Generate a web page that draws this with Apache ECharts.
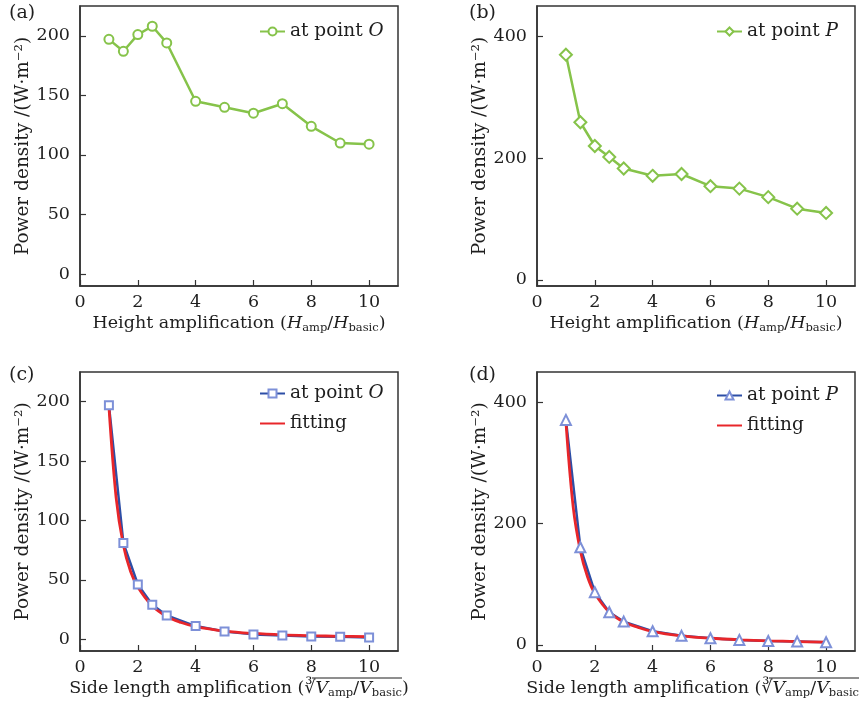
<!DOCTYPE html>
<html lang="en">
<head>
    <meta charset="UTF-8">
    <title>Power density vs amplification</title>
    <style>
        html, body { margin: 0; padding: 0; background: #fff; }
        #main { width: 859px; height: 718px; }
    </style>
    <script src="https://cdn.jsdelivr.net/npm/echarts@6/dist/echarts.min.js"></script>
</head>
<body>
<div id="main"></div>
<script>
    // measured points (x = amplification factor)
    const xVals = [1, 1.5, 2, 2.5, 3, 4, 5, 6, 7, 8, 9, 10]
    const pointOHeight = [197, 187, 201, 208, 194, 145, 140, 135, 143, 124, 110, 109]
    const pointPHeight = [370, 259, 220, 202, 183, 171, 174, 154, 150, 136, 117, 110]
    const pointOSide = [197, 81, 46, 29, 20, 11, 6.5, 4, 3, 2.2, 2, 1.4]
    const pointPSide = [371, 161, 87, 54, 38.5, 22.6, 15, 11, 8.3, 6.6, 5.5, 4.4]
    // fitted curves
    const fitX = [1, 1.25, 1.5, 1.75, 2, 2.5, 3, 3.5, 4, 5, 6, 7, 8, 9, 10]
    const fitOSide = [196, 119, 79, 57, 44, 28, 19, 14, 10.5, 6.8, 4.8, 3.6, 2.9, 2.4, 2.0]
    const fitPSide = [368, 228, 155, 112, 85, 54, 38, 29, 22, 15, 11, 8.5, 6.8, 5.6, 4.6]
    const xTicks = [0, 2, 4, 6, 8, 10]
    const yTicksO = [0, 50, 100, 150, 200]
    const yTicksP = [0, 200, 400]

    const FONT = 'DejaVu Serif'
    const INK = '#1e1e1e'
    const GREEN = '#86c34a'
    const BLUE = '#2d4ea6'
    const BLUE_MK = '#7d90d8'
    const RED = '#e8262a'

    const pairs = (xs, ys) => xs.map((x, i) => [x, ys[i]])

    const rich = {
        n: {fontFamily: FONT, fontSize: 17.5, color: INK},
        i: {fontFamily: FONT, fontSize: 17.5, color: INK, fontStyle: 'italic'},
        s: {fontFamily: FONT, fontSize: 11.5, color: INK, padding: [9, 0, 0, 0]},
        r: {fontFamily: FONT, fontSize: 17.5, color: INK}
    }
    const heightName = '{n|Height amplification (}{i|H}{s|amp}{n|/}{i|H}{s|basic}{n|)}'
    const sideName = '{n|Side length amplification (}{r|∛}{i|V}{s|amp}{n|/}{i|V}{s|basic}{n|)}'

    const grids = [
        {left: 80, top: 6, width: 318, height: 280},
        {left: 537, top: 6, width: 318, height: 280},
        {left: 80, top: 372, width: 318, height: 279},
        {left: 537, top: 372, width: 318, height: 279}
    ].map(g => Object.assign(g, {
        show: true, borderColor: '#333', borderWidth: 1.5,
        containLabel: false, outerBoundsMode: 'none'
    }))

    function mkX(idx, name) {
        return {
            type: 'value', gridIndex: idx, min: 0, max: 11,
            name, nameLocation: 'middle', nameGap: 27,
            nameTextStyle: {rich},
            axisLine: {show: true, onZero: false, lineStyle: {color: '#333', width: 1.5}},
            axisTick: {show: true, inside: true, length: 6, customValues: xTicks, lineStyle: {color: '#333', width: 1.2}},
            axisLabel: {customValues: xTicks, fontFamily: FONT, fontSize: 17.5, color: INK, margin: 7},
            splitLine: {show: false}
        }
    }

    function mkY(idx, max, ticks) {
        return {
            type: 'value', gridIndex: idx, min: -10, max,
            name: 'Power density /(W·m⁻²)', nameLocation: 'middle', nameGap: 47,
            nameTextStyle: {fontFamily: FONT, fontSize: 18.5, color: INK},
            axisLine: {show: true, onZero: false, lineStyle: {color: '#333', width: 1.5}},
            axisTick: {show: true, inside: true, length: 6, customValues: ticks, lineStyle: {color: '#333', width: 1.2}},
            axisLabel: {customValues: ticks, fontFamily: FONT, fontSize: 17.5, color: INK, margin: 10},
            splitLine: {show: false}
        }
    }

    const legendNames = {
        'O-height': '{t|at point }{i|O}',
        'P-height': '{t|at point }{i|P}',
        'O-side': '{t|at point }{i|O}',
        'P-side': '{t|at point }{i|P}',
        'fit-O': '{t|fitting}',
        'fit-P': '{t|fitting}'
    }
    const legendText = {
        rich: {
            t: {fontFamily: FONT, fontSize: 18.5, color: INK},
            i: {fontFamily: FONT, fontSize: 18.5, color: INK, fontStyle: 'italic'}
        }
    }
    function mkLegend(names, left, top) {
        return {
            data: names.map(n => n.startsWith('fit') ? {name: n, itemStyle: {opacity: 0}} : n),
            left, top, orient: 'vertical',
            itemWidth: 25, itemHeight: 10, itemGap: 11,
            formatter: n => legendNames[n], textStyle: legendText,
            selectedMode: false
        }
    }

    function panelLabel(text, left, top) {
        return {type: 'text', left, top, style: {text, font: '19px "' + FONT + '"', fill: INK}}
    }

    // vinculum of the cube root in the lower x-axis titles
    function rootBar(x1, x2, y) {
        return {type: 'line', shape: {x1, y1: y, x2, y2: y}, style: {stroke: INK, lineWidth: 1}}
    }

    const option = {
        animation: false,
        grid: grids,
        xAxis: [mkX(0, heightName), mkX(1, heightName), mkX(2, sideName), mkX(3, sideName)],
        yAxis: [mkY(0, 225, yTicksO), mkY(1, 450, yTicksP), mkY(2, 225, yTicksO), mkY(3, 450, yTicksP)],
        legend: [
            mkLegend(['O-height'], 254, 17),
            mkLegend(['P-height'], 711, 17),
            mkLegend(['O-side', 'fit-O'], 254, 379),
            mkLegend(['P-side', 'fit-P'], 711, 381)
        ],
        graphic: [
            panelLabel('(a)', 9, 4),
            panelLabel('(b)', 469, 4),
            panelLabel('(c)', 9, 366),
            panelLabel('(d)', 469, 366),
            rootBar(312, 402, 678),
            rootBar(769, 859, 678)
        ],
        series: [
            {
                name: 'O-height', type: 'line', xAxisIndex: 0, yAxisIndex: 0,
                data: pairs(xVals, pointOHeight),
                symbol: 'emptyCircle', symbolSize: 9,
                lineStyle: {color: GREEN, width: 2.5},
                itemStyle: {color: GREEN, borderWidth: 1.2}
            },
            {
                name: 'P-height', type: 'line', xAxisIndex: 1, yAxisIndex: 1,
                data: pairs(xVals, pointPHeight),
                symbol: 'emptyDiamond', symbolSize: 12,
                lineStyle: {color: GREEN, width: 2.5},
                itemStyle: {color: GREEN, borderWidth: 1.2}
            },
            {
                name: 'O-side', type: 'line', xAxisIndex: 2, yAxisIndex: 2,
                data: pairs(xVals, pointOSide),
                symbol: 'emptyRect', symbolSize: 8,
                lineStyle: {color: BLUE, width: 2.5},
                itemStyle: {color: BLUE_MK, borderWidth: 1.2}
            },
            {
                name: 'fit-O', type: 'line', xAxisIndex: 2, yAxisIndex: 2,
                data: pairs(fitX, fitOSide), smooth: 0.35,
                showSymbol: false, symbol: 'none',
                lineStyle: {color: RED, width: 2.8},
                itemStyle: {color: RED}
            },
            {
                name: 'P-side', type: 'line', xAxisIndex: 3, yAxisIndex: 3,
                data: pairs(xVals, pointPSide),
                symbol: 'emptyTriangle', symbolSize: 10,
                lineStyle: {color: BLUE, width: 2.5},
                itemStyle: {color: BLUE_MK, borderWidth: 1.2}
            },
            {
                name: 'fit-P', type: 'line', xAxisIndex: 3, yAxisIndex: 3,
                data: pairs(fitX, fitPSide), smooth: 0.35,
                showSymbol: false, symbol: 'none',
                lineStyle: {color: RED, width: 2.8},
                itemStyle: {color: RED}
            }
        ]
    }

    const chart = echarts.init(document.getElementById('main'))
    chart.setOption(option)
</script>
</body>
</html>
